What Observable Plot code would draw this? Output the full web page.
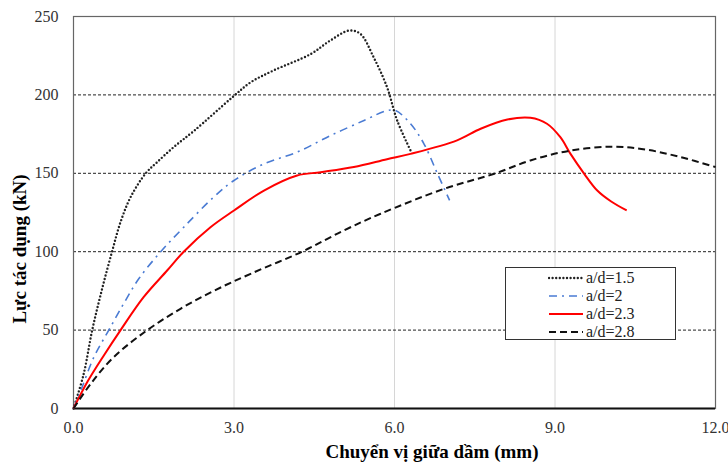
<!DOCTYPE html>
<html>
<head>
<meta charset="utf-8">
<script src="https://cdn.jsdelivr.net/npm/d3@7"></script>
<script src="https://cdn.jsdelivr.net/npm/@observablehq/plot@0.6"></script>
<style>
  html, body { margin: 0; padding: 0; background: #fff; }
  #wrap { position: relative; width: 728px; height: 463px; font-family: "Liberation Serif", "Times New Roman", serif; }
  #chart svg, #chart svg text { font-family: "Liberation Serif", "Times New Roman", serif !important; }
  #ytitle { position: absolute; left: 20px; top: 249px; transform: translate(-50%, -50%) rotate(-90deg); white-space: nowrap; font-weight: bold; font-size: 19px; color: #000; }
  #xtitle { position: absolute; left: 432px; top: 452px; transform: translate(-50%, -50%); white-space: nowrap; font-weight: bold; font-size: 19px; color: #000; }
  #legend { position: absolute; left: 505px; top: 267px; width: 169px; height: 71px; border: 1.5px solid #333; background: #fff; }
  .row { position: absolute; left: 0; height: 18px; }
  .row svg { position: absolute; left: 42px; top: 0; }
  .row span { position: absolute; left: 80px; top: 0; font-size: 16px; line-height: 18px; color: #222; white-space: nowrap; font-family: "Liberation Serif", "Times New Roman", serif; }
</style>
</head>
<body>
<div id="wrap">
  <div id="chart"></div>
  <div id="ytitle">Lực tác dụng (kN)</div>
  <div id="xtitle">Chuyển vị giữa dầm (mm)</div>
  <div id="legend"></div>
</div>
<script>
// a/d = 1.5
const x15 = [0, 0.19, 0.35, 0.54, 0.72, 0.88, 1.07, 1.35, 1.56, 1.87, 2.25, 2.97, 3.31, 3.74, 4.43, 4.80, 5.15, 5.36, 5.61, 5.86, 6.05, 6.30];
const y15 = [0, 22, 50, 77, 100, 119, 135, 150, 157, 166.6, 177, 198.5, 208, 215.6, 226, 234.7, 241, 239, 224, 205, 183.7, 164.5];
// a/d = 2
const x20 = [0, 0.16, 0.38, 0.66, 0.94, 1.22, 1.63, 2.06, 2.62, 3.0, 3.56, 4.18, 4.80, 5.43, 5.86, 6.02, 6.30, 6.55, 6.80, 7.03];
const y20 = [0, 13.6, 32.7, 50, 67, 82.7, 100, 115.6, 134.8, 145.4, 156, 163.5, 174, 183.7, 190, 190, 181.6, 168.8, 150, 132.7];
// a/d = 2.3
const x23 = [0, 0.26, 0.57, 0.88, 1.31, 1.75, 2.06, 2.56, 3.0, 3.56, 4.18, 4.62, 5.24, 5.86, 6.30, 7.17, 7.61, 8.11, 8.54, 8.85, 9.10, 9.29, 9.54, 9.79, 10.05, 10.34];
const y23 = [0, 17, 34, 50, 71, 88, 100, 115.6, 126.3, 139, 148.6, 150.7, 154, 159, 162.4, 171, 178.4, 184.3, 185.4, 181.6, 173, 162.4, 150, 139, 132, 126.3];
// a/d = 2.8
const x28 = [0, 0.32, 0.75, 1.38, 2.0, 2.62, 3.31, 4.27, 5.05, 5.74, 6.92, 7.89, 8.54, 9.29, 10.1, 10.72, 11.35, 12.0];
const y28 = [0, 15.7, 32.7, 50, 63.6, 75, 85.9, 100, 113.5, 124.2, 140, 150, 158.2, 164.5, 167, 165, 160.3, 154];

const seriesNames = ["a/d=1.5", "a/d=2", "a/d=2.3", "a/d=2.8"];
const xTicks = [0, 3, 6, 9, 12];
const yTicks = [0, 50, 100, 150, 200, 250];
const yGrid = [50, 100, 150, 200];
const xGrid = [3, 6, 9];

const styles = [
  {stroke: "#222", strokeWidth: 2.4, strokeDasharray: "0,3.6", strokeLinecap: "round"},
  {stroke: "#4a7bd3", strokeWidth: 1.6, strokeDasharray: "8,5,2,5", strokeLinecap: "butt"},
  {stroke: "#ff0000", strokeWidth: 2, strokeDasharray: "none", strokeLinecap: "butt"},
  {stroke: "#111", strokeWidth: 2, strokeDasharray: "7,4", strokeLinecap: "butt"}
];

const toRows = (xs, ys) => xs.map((x, i) => ({x, y: ys[i]}));
const sets = [toRows(x15, y15), toRows(x20, y20), toRows(x23, y23), toRows(x28, y28)];

const chart = Plot.plot({
  width: 728,
  height: 463,
  marginLeft: 73,
  marginRight: 13,
  marginTop: 16,
  marginBottom: 55,
  style: {fontSize: "16px", color: "#333", background: "#fff"},
  x: {domain: [0, 12]},
  y: {domain: [0, 250]},
  marks: [
    Plot.ruleX(xGrid, {stroke: "#d6d6d6", strokeWidth: 1}),
    Plot.ruleY(yGrid, {stroke: "#222", strokeWidth: 1, strokeDasharray: "3,2"}),
    Plot.frame({stroke: "#666", strokeWidth: 1.2}),
    Plot.ruleY([0], {stroke: "#111", strokeWidth: 1.8}),
    ...sets.map((d, i) => Plot.line(d, {x: "x", y: "y", curve: "catmull-rom", ...styles[i]})),
    Plot.axisX(xTicks, {tickSize: 0, tickPadding: 13, tickFormat: d => d.toFixed(1), label: null, fill: "#333"}),
    Plot.axisY(yTicks, {tickSize: 0, tickPadding: 15, label: null, fill: "#333"})
  ]
});
document.getElementById("chart").appendChild(chart);

// legend
const leg = document.getElementById("legend");
seriesNames.forEach((name, i) => {
  const row = document.createElement("div");
  row.className = "row";
  row.style.top = (i * 18.3 + 0.5) + "px";
  row.style.width = "169px";
  const s = styles[i];
  const svg = d3.create("svg").attr("width", 36).attr("height", 18);
  svg.append("line").attr("x1", 1).attr("x2", 35).attr("y1", 9).attr("y2", 9)
    .attr("stroke", s.stroke).attr("stroke-width", s.strokeWidth)
    .attr("stroke-dasharray", s.strokeDasharray).attr("stroke-linecap", s.strokeLinecap);
  row.appendChild(svg.node());
  const sp = document.createElement("span");
  sp.textContent = name;
  row.appendChild(sp);
  leg.appendChild(row);
});
</script>
</body>
</html>
